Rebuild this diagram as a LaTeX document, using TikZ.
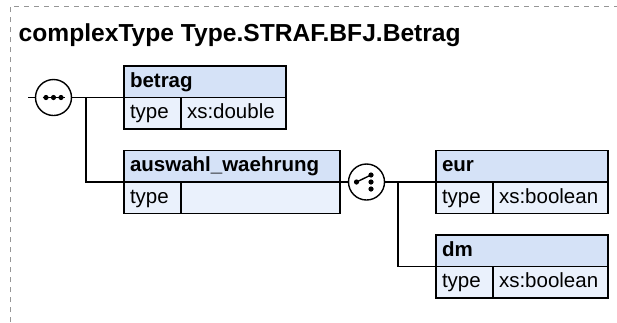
\documentclass[tikz,border=0pt]{standalone}
\usepackage{fontspec}
\setmainfont{Liberation Sans}
\usetikzlibrary{positioning}
\definecolor{hblue}{RGB}{213,226,247}
\definecolor{rblue}{RGB}{234,241,252}
\definecolor{fgray}{RGB}{150,150,150}

\begin{document}
\begin{tikzpicture}[x=1pt, y=-1pt, line width=1.4pt,
  hdr/.style={draw, fill=hblue, anchor=north west, text width=#1, minimum height=31.5pt,
    inner xsep=6pt, inner ysep=0pt, outer sep=0pt, text height=15pt, text depth=4.3pt,
    align=left, font=\fontsize{20.5}{24}\selectfont\bfseries},
  cell/.style={draw, fill=rblue, anchor=north west, text width=#1, minimum height=31.5pt,
    inner xsep=6pt, inner ysep=0pt, outer sep=0pt, text height=15pt, text depth=4.3pt,
    align=left, font=\fontsize{20.5}{24}\selectfont},
  comp/.style={circle, draw, fill=white, minimum size=36pt, inner sep=0pt, outer sep=0pt}]
\useasboundingbox (0,0) rectangle (617,322);
\draw[fgray, line width=1pt, dash pattern=on 5pt off 5pt] (10,322) -- (10,6) -- (617,6);
\node[anchor=base west, inner sep=0pt, font=\fontsize{24.6}{28}\selectfont\bfseries] (title) at (18,41)
  {complexType Type.STRAF.BFJ.Betrag};
% elements
\node[hdr=150pt] (betrag) at (124,66) {betrag};
\node[cell=45pt] (betragT) at (betrag.south west) {type};
\node[cell=93pt] (betragV) at (betragT.north east) {xs:double};
\node[hdr=204pt] (auswahl) at (124,150.5) {auswahl\_waehrung};
\node[cell=45pt] (auswahlT) at (auswahl.south west) {type};
\node[cell=147pt] (auswahlV) at (auswahlT.north east) {};
\node[hdr=160pt] (eur) at (436,150.5) {eur};
\node[cell=45pt] (eurT) at (eur.south west) {type};
\node[cell=103pt] (eurV) at (eurT.north east) {xs:boolean};
\node[hdr=160pt] (dm) at (436,235) {dm};
\node[cell=45pt] (dmT) at (dm.south west) {type};
\node[cell=103pt] (dmV) at (dmT.north east) {xs:boolean};
% compositors
\node[comp] (seq) at (53.5,97.5) {};
\draw ([xshift=-11pt]seq.center) -- ([xshift=11pt]seq.center);
\foreach \d in {-7.5,0,7.5}
  \fill ([xshift=\d pt]seq.center) circle (2.6pt);
\node[comp] (choice) at (366.5,182) {};
\draw ([xshift=-10pt]choice.center) -- ([xshift=4.5pt,yshift=7pt]choice.center);
\fill ([xshift=-10pt]choice.center) circle (2.6pt);
\foreach \d in {-7,0,7}
  \fill ([xshift=4.5pt,yshift=\d pt]choice.center) circle (2.6pt);
% connectors
\coordinate (in) at (28,97.5);
\coordinate (fork1) at (86,97.5);
\coordinate (fork2) at (398,182);
\draw (in) -- (seq.west);
\draw (seq.east) -- (betrag.south west);
\draw (fork1) |- (auswahl.south west);
\draw (auswahl.south east) -- (choice.west);
\draw (choice.east) -- (eur.south west);
\draw (fork2) |- (dm.south west);
\end{tikzpicture}
\end{document}
